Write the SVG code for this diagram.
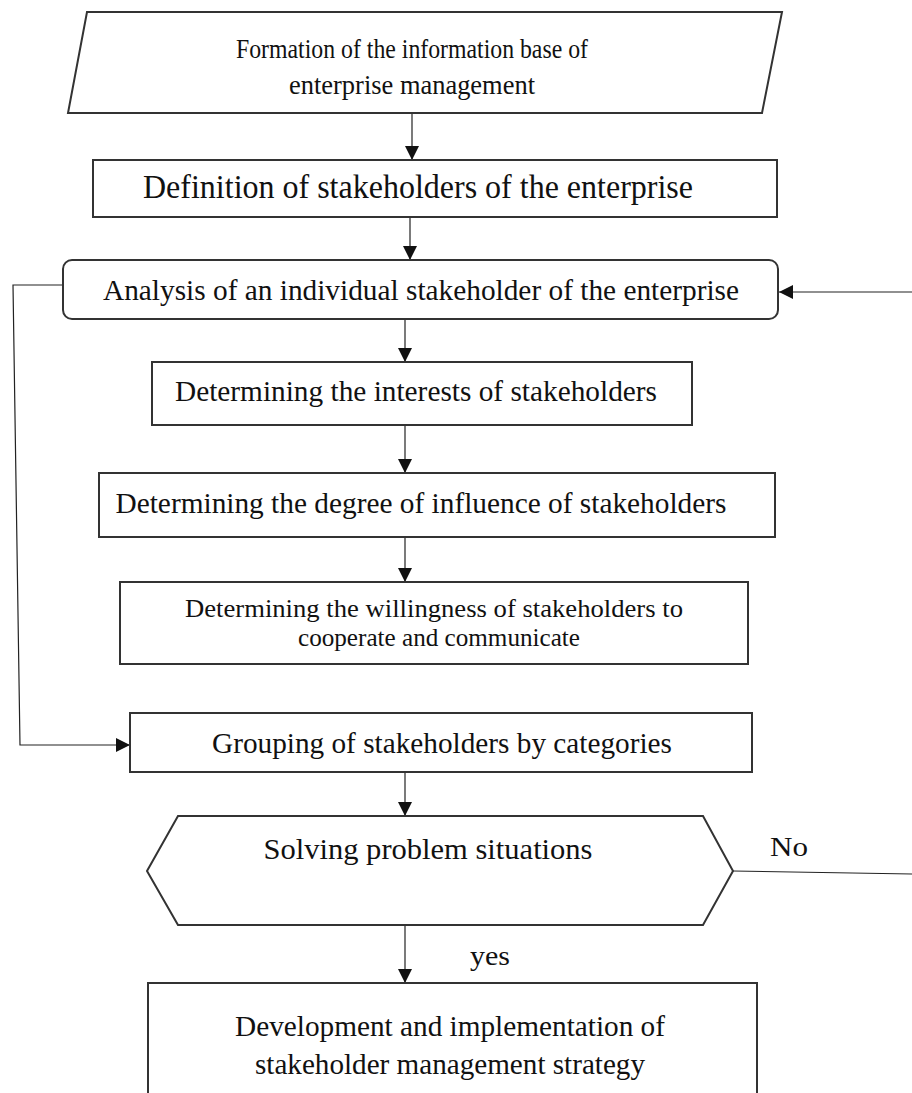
<svg xmlns="http://www.w3.org/2000/svg" width="912" height="1093" viewBox="0 0 912 1093">
<style>
.box{fill:#fff;stroke:#333;stroke-width:2}
.t{font-family:"Liberation Serif","Times New Roman",serif;fill:#111;text-anchor:middle}
.c{fill:none;stroke:#222;stroke-width:1.2}
</style>
<defs>
<marker id="ahl" viewBox="0 0 14 14" refX="14" refY="7" markerWidth="14" markerHeight="14" markerUnits="userSpaceOnUse" orient="auto"><path d="M0,0 L14,7 L0,14 Z" fill="#111"/></marker>
</defs>
<rect width="912" height="1093" fill="#fff"/>
<g id="connectors">
<line class="c" x1="412" y1="113" x2="412" y2="160" marker-end="url(#ahl)"/>
<line class="c" x1="410" y1="217" x2="410" y2="260" marker-end="url(#ahl)"/>
<line class="c" x1="912" y1="292" x2="779" y2="292" marker-end="url(#ahl)"/>
<polyline class="c" points="63,285 13,285 20,745 130,745" marker-end="url(#ahl)"/>
<line class="c" x1="405" y1="320" x2="405" y2="362" marker-end="url(#ahl)"/>
<line class="c" x1="405" y1="425" x2="405" y2="473" marker-end="url(#ahl)"/>
<line class="c" x1="405" y1="537" x2="405" y2="582" marker-end="url(#ahl)"/>
<line class="c" x1="405" y1="772" x2="405" y2="816" marker-end="url(#ahl)"/>
<line class="c" x1="405" y1="925" x2="405" y2="983" marker-end="url(#ahl)"/>
<line class="c" x1="733" y1="871" x2="912" y2="874"/>
<text class="t" x="789" y="856" font-size="28" textLength="38" lengthAdjust="spacingAndGlyphs">No</text>
<text class="t" x="490" y="965" font-size="28" textLength="40" lengthAdjust="spacingAndGlyphs">yes</text>
</g>
<g id="n1">
<polygon class="box" points="87,12 782,12 762,113 68,113"/>
<text class="t" x="412" y="58" font-size="27" textLength="352" lengthAdjust="spacingAndGlyphs">Formation of the information base of</text>
<text class="t" x="412" y="94" font-size="27" textLength="246" lengthAdjust="spacingAndGlyphs">enterprise management</text>
</g>
<g id="n2">
<rect class="box" x="93" y="160" width="684" height="57"/>
<text class="t" x="418" y="198" font-size="33" textLength="550" lengthAdjust="spacingAndGlyphs">Definition of stakeholders of the enterprise</text>
</g>
<g id="n3">
<rect class="box" x="63" y="260" width="715" height="59" rx="9"/>
<text class="t" x="421" y="300" font-size="29" textLength="636" lengthAdjust="spacingAndGlyphs">Analysis of an individual stakeholder of the enterprise</text>
</g>
<g id="n4">
<rect class="box" x="152" y="362" width="540" height="63"/>
<text class="t" x="416" y="401" font-size="29" textLength="482" lengthAdjust="spacingAndGlyphs">Determining the interests of stakeholders</text>
</g>
<g id="n5">
<rect class="box" x="99" y="473" width="676" height="64"/>
<text class="t" x="421" y="513" font-size="29" textLength="611" lengthAdjust="spacingAndGlyphs">Determining the degree of influence of stakeholders</text>
</g>
<g id="n6">
<rect class="box" x="120" y="582" width="628" height="82"/>
<text class="t" x="434" y="617" font-size="25" textLength="498" lengthAdjust="spacingAndGlyphs">Determining the willingness of stakeholders to</text>
<text class="t" x="439" y="646" font-size="25" textLength="282" lengthAdjust="spacingAndGlyphs">cooperate and communicate</text>
</g>
<g id="n7">
<rect class="box" x="130" y="713" width="622" height="59"/>
<text class="t" x="442" y="753" font-size="29" textLength="460" lengthAdjust="spacingAndGlyphs">Grouping of stakeholders by categories</text>
</g>
<g id="n8">
<polygon class="box" points="178,816 703,816 733,871 703,925 178,925 147,871"/>
<text class="t" x="428" y="859" font-size="29" textLength="329" lengthAdjust="spacingAndGlyphs">Solving problem situations</text>
</g>
<g id="n9">
<rect class="box" x="148" y="983" width="609" height="120"/>
<text class="t" x="450" y="1036" font-size="30" textLength="430" lengthAdjust="spacingAndGlyphs">Development and implementation of</text>
<text class="t" x="450" y="1074" font-size="30" textLength="390" lengthAdjust="spacingAndGlyphs">stakeholder management strategy</text>
</g>
</svg>
